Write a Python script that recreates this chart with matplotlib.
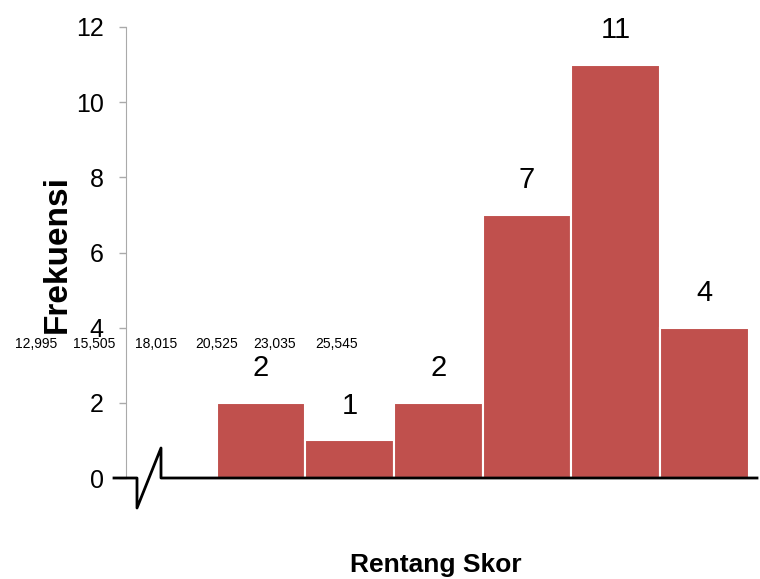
import matplotlib
matplotlib.use("Agg")
import matplotlib.pyplot as plt
from matplotlib.lines import Line2D

# frequency per score range
freq = [2, 1, 2, 7, 11, 4]
# range boundaries printed across the plot
bounds = ["12,995", "15,505", "18,015", "20,525", "23,035", "25,545"]
bound_px = [36, 94, 156, 217, 275, 337]

W, H = 760, 579
fig = plt.figure(figsize=(W / 100, H / 100), dpi=100)

# axes box in pixels: left 126, right 757, top 27, bottom 478
ax = fig.add_axes([126 / W, (H - 478) / H, (757 - 126) / W, (478 - 27) / H])

font = "Liberation Sans"
bar_col = "#C0504D"

x = list(range(len(freq)))
bars = ax.bar(x, freq, width=1.0, color=bar_col, edgecolor="white", linewidth=1.5, zorder=3)
for b, v in zip(bars, freq):
    ax.annotate(str(v), (b.get_x() + b.get_width() / 2, v), xytext=(0, 15),
                textcoords="offset points", ha="center", va="bottom",
                fontsize=21, family=font)

ax.set_xlim(-1.522, 5.592)
ax.set_ylim(0, 12)
ax.set_yticks(range(0, 13, 2))
ax.set_yticklabels([str(v) for v in range(0, 13, 2)], family=font, fontsize=18)
ax.tick_params(axis="y", length=5, width=1, color="#AAAAAA", pad=11)
ax.set_xticks([])

for s in ["top", "right", "bottom"]:
    ax.spines[s].set_visible(False)
ax.spines["left"].set_color("#AAAAAA")

# x axis with a break mark near the origin
px = [114, 137, 137, 161, 161, 757]
py = [478, 478, 508, 448, 478, 478]
ax.add_line(Line2D([(p - 126) / 631 for p in px], [(478 - p) / 451 for p in py],
                   transform=ax.transAxes, color="black", lw=2, clip_on=False, zorder=5))

fig.text(57 / W, 1 - 254 / H, "Frekuensi", rotation=90, ha="center", va="center",
         fontsize=24, fontweight="bold", family=font)
fig.text(436 / W, 1 - 565 / H, "Rentang Skor", ha="center", va="center",
         fontsize=19, fontweight="bold", family=font)

for lbl, p in zip(bounds, bound_px):
    fig.text(p / W, 1 - 344 / H, lbl, ha="center", va="center",
             fontsize=10, family=font)

fig.savefig("out.png", dpi=100)
